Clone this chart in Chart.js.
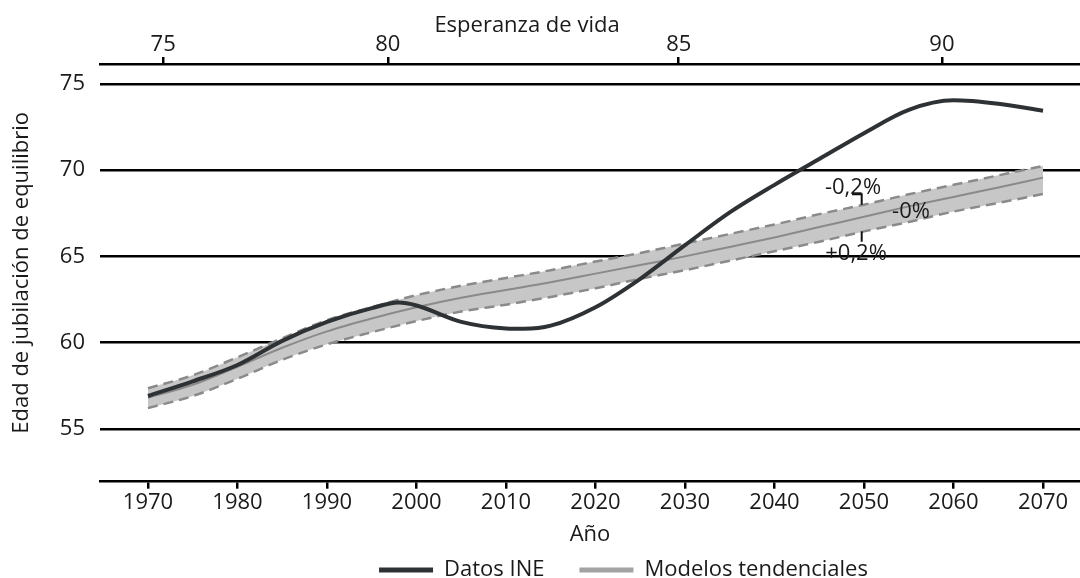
<!DOCTYPE html>
<html>
<head>
<meta charset="utf-8">
<script src="https://cdn.jsdelivr.net/npm/chart.js@4.4.1/dist/chart.umd.min.js"></script>
<style>
html, body { margin: 0; padding: 0; background: #ffffff; }
#wrap { width: 1080px; height: 578px; position: relative; }
</style>
</head>
<body>
<div id="wrap"><canvas id="c"></canvas></div>
<script>
// ---- Data ----
const ineYears  = [1970, 1975, 1980, 1985, 1990, 1995, 1998, 2000, 2005, 2010, 2012, 2015, 2020, 2025, 2030, 2035, 2040, 2045, 2050, 2055, 2060, 2065, 2070];
const ineValues = [56.9, 57.75, 58.7, 60.1, 61.2, 62.0, 62.32, 62.15, 61.2, 60.82, 60.8, 60.98, 62.05, 63.7, 65.65, 67.55, 69.15, 70.65, 72.15, 73.5, 74.05, 73.85, 73.45];

const modelYears  = [1970, 1975, 1980, 1985, 1990, 1995, 2000, 2005, 2010, 2015, 2020, 2025, 2030, 2035, 2040, 2045, 2050, 2055, 2060, 2065, 2070];
const modelMid    = [56.8, 57.55, 58.6, 59.7, 60.65, 61.4, 62.05, 62.6, 63.05, 63.5, 64.0, 64.5, 65.0, 65.55, 66.1, 66.7, 67.3, 67.9, 68.45, 69.0, 69.57];
const modelUpper  = [57.35, 58.1, 59.15, 60.25, 61.3, 62.05, 62.75, 63.3, 63.75, 64.2, 64.7, 65.2, 65.75, 66.3, 66.85, 67.45, 68.0, 68.6, 69.15, 69.7, 70.25];
const modelLower  = [56.2, 56.9, 57.9, 59.0, 59.9, 60.6, 61.25, 61.8, 62.2, 62.65, 63.15, 63.7, 64.2, 64.75, 65.3, 65.85, 66.45, 67.0, 67.6, 68.1, 68.62];

const xTicks = [1970, 1980, 1990, 2000, 2010, 2020, 2030, 2040, 2050, 2060, 2070];
const yTicks = [55, 60, 65, 70, 75];
const lifeExpYears  = [1971.7, 1996.8, 2029.3, 2058.7];
const lifeExpLabels = ['75', '80', '85', '90'];

const annotLabels = ['-0,2%', '-0%', '+0,2%'];
const annotYears  = [2048.77, 2055.25, 2049.11];
const annotValues = [68.97, 67.59, 65.14];
const bracketYear = 2049.74;
const bracketHookYear = 2048.66;
const bracketUpperTop = 68.6;
const bracketLowerBottom = 65.85;

// ---- Styles ----
const FONT = "'Open Sans', 'Noto Sans', sans-serif";
const TXT = '#1a1a1a';
const INE_COLOR = '#2f3234';
const MODEL_COLOR = '#8a8a8a';
const LEGEND_MODEL_COLOR = '#a3a3a3';
const BAND_FILL = '#c6c7c6';

Chart.defaults.font.family = FONT;
Chart.defaults.font.size = 22;
Chart.defaults.color = TXT;

const toPts = (xs, ys) => xs.map((x, i) => ({ x: x, y: ys[i] }));

const xMin = 1964.64, xMax = 2074.13;

const extrasPlugin = {
  id: 'extras',
  afterDatasetsDraw(chart) {
    const ctx = chart.ctx;
    const xs = chart.scales.x, ys = chart.scales.y;
    ctx.save();
    // brackets
    ctx.strokeStyle = '#111';
    ctx.lineWidth = 2;
    const bx = xs.getPixelForValue(bracketYear);
    const upperAt = modelUpper[modelYears.indexOf(2050)];
    const lowerAt = modelLower[modelYears.indexOf(2050)];
    ctx.beginPath();
    ctx.moveTo(xs.getPixelForValue(bracketHookYear), ys.getPixelForValue(bracketUpperTop));
    ctx.lineTo(bx, ys.getPixelForValue(bracketUpperTop));
    ctx.lineTo(bx, ys.getPixelForValue(upperAt));
    ctx.stroke();
    ctx.beginPath();
    ctx.moveTo(bx, ys.getPixelForValue(lowerAt));
    ctx.lineTo(bx, ys.getPixelForValue(bracketLowerBottom));
    ctx.stroke();
    // labels
    ctx.fillStyle = TXT;
    ctx.font = '22px ' + FONT;
    ctx.textAlign = 'center';
    ctx.textBaseline = 'middle';
    annotLabels.forEach((t, i) => {
      ctx.fillText(t, xs.getPixelForValue(annotYears[i]), ys.getPixelForValue(annotValues[i]));
    });
    ctx.restore();
  },
  afterDraw(chart) {
    const ctx = chart.ctx;
    ctx.save();
    ctx.font = '22px ' + FONT;
    ctx.fillStyle = TXT;
    // top axis title
    ctx.textAlign = 'center';
    ctx.textBaseline = 'middle';
    ctx.fillText('Esperanza de vida', 527, 26);
    // legend
    const items = [
      { text: chart.data.datasets[0].label, color: INE_COLOR },
      { text: chart.data.datasets[1].label, color: LEGEND_MODEL_COLOR }
    ];
    const lineLen = 54, gap = 11, spacing = 35, ly = 570, center = 623.5;
    const widths = items.map(it => ctx.measureText(it.text).width);
    let total = 0;
    items.forEach((it, i) => { total += lineLen + gap + widths[i]; if (i) total += spacing; });
    let x = center - total / 2;
    ctx.textAlign = 'left';
    items.forEach((it, i) => {
      ctx.strokeStyle = it.color;
      ctx.lineWidth = 5;
      ctx.beginPath();
      ctx.moveTo(x, ly);
      ctx.lineTo(x + lineLen, ly);
      ctx.stroke();
      ctx.fillText(it.text, x + lineLen + gap, ly);
      x += lineLen + gap + widths[i] + spacing;
    });
    ctx.restore();
  }
};

new Chart(document.getElementById('c'), {
  type: 'line',
  data: {
    datasets: [
      {
        label: 'Datos INE',
        data: toPts(ineYears, ineValues),
        borderColor: INE_COLOR,
        borderWidth: 4,
        pointRadius: 0,
        cubicInterpolationMode: 'monotone',
        fill: false
      },
      {
        label: 'Modelos tendenciales',
        data: toPts(modelYears, modelMid),
        borderColor: MODEL_COLOR,
        borderWidth: 2,
        pointRadius: 0,
        cubicInterpolationMode: 'monotone',
        fill: false
      },
      {
        label: '-0,2%',
        data: toPts(modelYears, modelUpper),
        borderColor: MODEL_COLOR,
        borderWidth: 2.5,
        borderDash: [10, 6],
        pointRadius: 0,
        cubicInterpolationMode: 'monotone',
        fill: false
      },
      {
        label: '+0,2%',
        data: toPts(modelYears, modelLower),
        borderColor: MODEL_COLOR,
        borderWidth: 2.5,
        borderDash: [10, 6],
        pointRadius: 0,
        cubicInterpolationMode: 'monotone',
        backgroundColor: BAND_FILL,
        fill: '-1'
      }
    ]
  },
  options: {
    responsive: true,
    maintainAspectRatio: false,
    animation: false,
    layout: { padding: 0 },
    plugins: {
      legend: { display: false },
      tooltip: { enabled: false }
    },
    scales: {
      x: {
        type: 'linear',
        position: 'bottom',
        min: xMin,
        max: xMax,
        afterBuildTicks: s => { s.ticks = xTicks.map(v => ({ value: v })); },
        ticks: { callback: v => String(v), padding: 1, maxRotation: 0, autoSkip: false, color: TXT },
        grid: { drawOnChartArea: false, drawTicks: true, tickLength: 7, color: '#000', lineWidth: 2.5 },
        border: { display: true, color: '#000', width: 2.5 },
        title: { display: true, text: 'Año', color: TXT, font: { size: 22 }, padding: { top: 0, bottom: 30 } },
        afterFit: s => { s.height = 96.3; }
      },
      x2: {
        type: 'linear',
        position: 'top',
        min: xMin,
        max: xMax,
        afterBuildTicks: s => { s.ticks = lifeExpYears.map(v => ({ value: v })); },
        ticks: { callback: (v, i) => lifeExpLabels[i], padding: 0, maxRotation: 0, autoSkip: false, color: TXT, font: { size: 22, lineHeight: 1.1 } },
        grid: { drawOnChartArea: false, drawTicks: true, tickLength: 7, color: '#000', lineWidth: 2.5 },
        border: { display: true, color: '#000', width: 2.5 },
        afterFit: s => { s.height = 64; }
      },
      y: {
        type: 'linear',
        position: 'left',
        min: 51.93,
        max: 76.16,
        afterBuildTicks: s => { s.ticks = yTicks.map(v => ({ value: v })); },
        ticks: { callback: v => String(v), padding: 15, color: TXT },
        grid: { drawTicks: false, color: '#000', lineWidth: 2.5 },
        border: { display: false },
        title: { display: true, text: 'Edad de jubilación de equilibrio', color: TXT, font: { size: 22 }, padding: { top: 8.5, bottom: 0 } },
        afterFit: s => { s.width = 100; }
      }
    }
  },
  plugins: [extrasPlugin]
});
</script>
</body>
</html>
